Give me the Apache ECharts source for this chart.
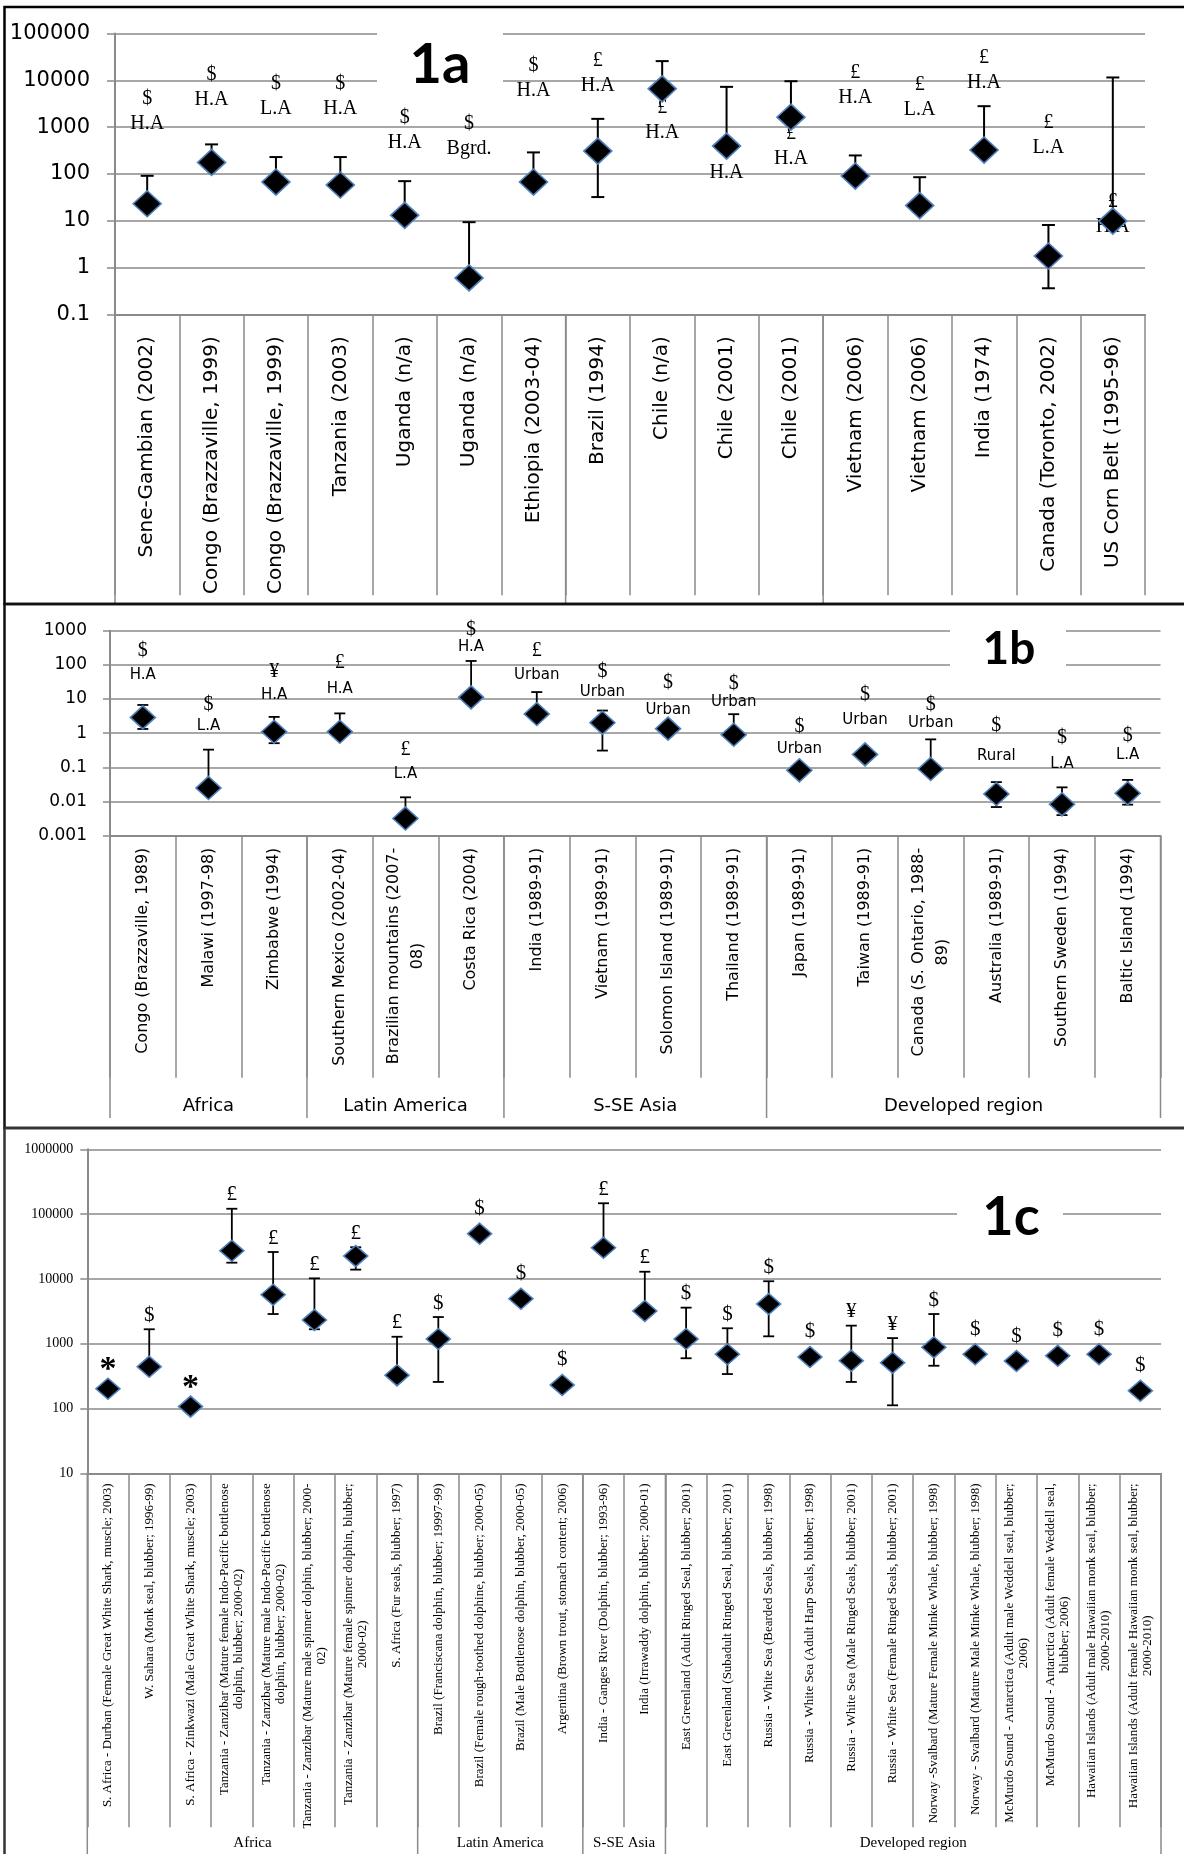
<!DOCTYPE html>
<html>
<head>
<meta charset="utf-8">
<script src="https://cdn.jsdelivr.net/npm/echarts@6/dist/echarts.min.js"></script>
<style>
  html, body { margin: 0; padding: 0; background: #fff; }
  #chart { width: 1184px; height: 1854px; }
</style>
</head>
<body>
<div id="chart"></div>
<script>
// ---------------- Panel 1a ----------------
const cats1a = ["Sene-Gambian (2002)", "Congo (Brazzaville, 1999)", "Congo (Brazzaville, 1999)", "Tanzania (2003)",
  "Uganda (n/a)", "Uganda (n/a)", "Ethiopia (2003-04)", "Brazil (1994)", "Chile (n/a)", "Chile (2001)", "Chile (2001)",
  "Vietnam (2006)", "Vietnam (2006)", "India (1974)", "Canada (Toronto, 2002)", "US Corn Belt (1995-96)"];
const vals1a = [23, 176, 67, 58, 13, 0.6, 67, 307, 6560, 393, 1630, 90, 21, 323, 1.76, 9.8];
const hi1a   = [91, 427, 229, 229, 70, 9.3, 288, 1500, 25700, 7240, 9560, 248, 85, 2800, 8.1, 11500];
const lo1a   = [null, null, null, null, null, null, null, 32, null, null, null, null, null, null, 0.36, null];
const cur1a  = ["$", "$", "$", "$", "$", "$", "$", "£", "£", "£", "£", "£", "£", "£", "£", "£"];
const area1a = ["H.A", "H.A", "L.A", "H.A", "H.A", "Bgrd.", "H.A", "H.A", "H.A", "H.A", "H.A", "H.A", "L.A", "H.A", "L.A", "H.A"];
const groupSizes1a = [7, 4, 5];
const yTicks1a = [0.1, 100000];

// ---------------- Panel 1b ----------------
const cats1b = ["Congo (Brazzaville, 1989)", "Malawi (1997-98)", "Zimbabwe (1994)", "Southern Mexico (2002-04)",
  "Brazilian mountains (2007-\n08)", "Costa Rica (2004)", "India (1989-91)", "Vietnam (1989-91)",
  "Solomon Island (1989-91)", "Thailand (1989-91)", "Japan (1989-91)", "Taiwan (1989-91)",
  "Canada (S. Ontario, 1988-\n89)", "Australia (1989-91)", "Southern Sweden (1994)", "Baltic Island (1994)"];
const vals1b = [2.9, 0.025, 1.1, 1.1, 0.0032, 11.2, 3.65, 2.03, 1.36, 0.9, 0.082, 0.24, 0.09, 0.0166, 0.0083, 0.0174];
const hi1b   = [6.7, 0.33, 3.0, 3.8, 0.0133, 130, 16, 4.6, null, 3.6, null, null, 0.66, 0.037, 0.026, 0.043];
const lo1b   = [1.33, null, 0.51, null, null, null, null, 0.31, null, null, null, null, null, 0.0069, 0.004, 0.0081];
const cur1b  = ["$", "$", "¥", "£", "£", "$", "£", "$", "$", "$", "$", "$", "$", "$", "$", "$"];
const area1b = ["H.A", "L.A", "H.A", "H.A", "L.A", "H.A", "Urban", "Urban", "Urban", "Urban", "Urban", "Urban", "Urban", "Rural", "L.A", "L.A"];
const groups1b = ["Africa", "Latin America", "S-SE Asia", "Developed region"];
const groupSizes1b = [3, 3, 4, 6];
const yTicks1b = [0.001, 1000];

// ---------------- Panel 1c ----------------
const cats1c = [
  "S. Africa - Durban (Female Great White Shark, muscle; 2003)",
  "W. Sahara (Monk seal, blubber; 1996-99)",
  "S. Africa - Zinkwazi (Male Great White Shark, muscle; 2003)",
  "Tanzania - Zanzibar (Mature female Indo-Pacific bottlenose\ndolphin, blubber; 2000-02)",
  "Tanzania - Zanzibar (Mature male Indo-Pacific bottlenose\ndolphin, blubber; 2000-02)",
  "Tanzania - Zanzibar (Mature male spinner dolphin, blubber; 2000-\n02)",
  "Tanzania - Zanzibar (Mature female spinner dolphin, blubber;\n2000-02)",
  "S. Africa (Fur seals, blubber; 1997)",
  "Brazil (Franciscana dolphin, blubber; 19997-99)",
  "Brazil (Female rough-toothed dolphine, blubber; 2000-05)",
  "Brazil (Male Bottlenose dolphin, blubber, 2000-05)",
  "Argentina (Brown trout, stomach content; 2006)",
  "India - Ganges River (Dolphin, blubber; 1993-96)",
  "India (Irrawaddy dolphin, blubber; 2000-01)",
  "East Greenland (Adult Ringed Seal, blubber; 2001)",
  "East Greenland (Subadult Ringed Seal, blubber; 2001)",
  "Russia - White Sea (Bearded Seals, blubber; 1998)",
  "Russia - White Sea (Adult Harp Seals, blubber; 1998)",
  "Russia - White Sea (Male Ringed Seals, blubber; 2001)",
  "Russia - White Sea (Female Ringed Seals, blubber; 2001)",
  "Norway -Svalbard (Mature Female Minke Whale, blubber; 1998)",
  "Norway - Svalbard (Mature Male Minke Whale, blubber; 1998)",
  "McMurdo Sound - Antarctica (Adult male Weddell seal, blubber;\n2006)",
  "McMurdo Sound - Antarctica (Adult female Weddell seal,\nblubber; 2006)",
  "Hawaiian Islands (Adult male Hawaiian monk seal, blubber;\n2000-2010)",
  "Hawaiian Islands (Adult female Hawaiian monk seal, blubber;\n2000-2010)"];
const vals1c = [202, 442, 107, 27200, 5700, 2320, 22500, 325, 1180, 49900, 4940, 231, 30300, 3200,
  1180, 686, 4100, 624, 547, 509, 879, 686, 541, 653, 686, 188];
const hi1c = [null, 1670, null, 121000, 26000, 10200, 30800, 1280, 2580, null, null, null, 147000, 12900,
  3600, 1730, 9200, null, 1900, 1220, 2870, null, null, null, null, null];
const lo1c = [null, null, null, 17800, 2870, 1670, 13900, null, 257, null, null, null, null, null,
  596, 340, 1300, null, 257, 112, 457, null, null, null, null, null];
const tag1c = ["*", "$", "*", "£", "£", "£", "£", "£", "$", "$", "$", "$", "£", "£",
  "$", "$", "$", "$", "¥", "¥", "$", "$", "$", "$", "$", "$"];
const groups1c = ["Africa", "Latin America", "S-SE Asia", "Developed region"];
const groupSizes1c = [8, 4, 2, 12];
const yTicks1c = [10, 1000000];

// ---------------- layout / styling ----------------
const GRAY = '#8a8a8a';
const SANS = '"DejaVu Sans"';
const SERIF = '"Liberation Serif"';
// vertical placement of the two-line tags (px above the marker centre)
const tagRise1a = [80, 63, 73, 76, 73, 129, 91, 65, -44, -27, -42, 78, 96, 67, 108, -6];
const tagGap1a = tagRise1a.map(() => 25);
const tagRise1b = [42, 62, 37, 43, 44, 50, 39, 31, 19, 33, 21, 34, 46, 38, 40, 38];
const tagGap1b = [25, 21, 23, 26, 25, 18, 24, 20, 27, 18, 23, 26, 18, 30, 27, 20];

const chart = echarts.init(document.getElementById('chart'), null, { renderer: 'canvas' });

function powLabel(v) {
  const e = Math.round(Math.log10(v));
  return e >= 0 ? String(Math.pow(10, e)) : Math.pow(10, e).toFixed(-e);
}

function yAxisCfg(gridIndex, ticks, fontFamily, fontSize, margin, tickLen) {
  return {
    type: 'log', logBase: 10, gridIndex, min: ticks[0], max: ticks[1],
    axisLine: { show: true, lineStyle: { color: GRAY, width: 2 } },
    axisTick: { show: true, length: tickLen, lineStyle: { color: GRAY, width: 1.5 } },
    splitLine: { show: true, lineStyle: { color: GRAY, width: 1.5 } },
    minorTick: { show: false }, minorSplitLine: { show: false },
    axisLabel: { color: '#000', fontFamily, fontSize, margin, formatter: powLabel }
  };
}

function xAxisCfg(gridIndex, cats, fontFamily, fontSize, lineHeight, margin, tickLen) {
  return {
    type: 'category', gridIndex, data: cats, boundaryGap: true,
    axisLine: { show: true, lineStyle: { color: GRAY, width: 2 } },
    axisTick: { show: true, interval: 0, length: tickLen, lineStyle: { color: GRAY, width: 1.5 } },
    splitLine: { show: false },
    axisLabel: {
      interval: 0, rotate: 90, margin, color: '#000', fontFamily, fontSize, lineHeight,
      formatter: v => v.indexOf('\n') < 0 ? v : v.split('\n').map(s => '{c|' + s + '}').join('\n'),
      rich: { c: { align: 'center', fontFamily, fontSize, lineHeight, color: '#000' } }
    }
  };
}

function errorData(vals, hi, lo) {
  return vals.map((v, i) => [i, v, hi[i] == null ? v : hi[i], lo[i] == null ? v : lo[i],
    hi[i] == null ? 0 : 1, lo[i] == null ? 0 : 1]);
}

function errorSeries(axisIdx, vals, hi, lo, cap, width) {
  return {
    type: 'custom', xAxisIndex: axisIdx, yAxisIndex: axisIdx, z: 2, clip: false, silent: true,
    encode: { x: 0, y: 1 },
    data: errorData(vals, hi, lo),
    renderItem(params, api) {
      const i = api.value(0);
      const pTop = api.coord([i, api.value(2)]);
      const pBot = api.coord([i, api.value(3)]);
      const x = pTop[0];
      const st = { stroke: '#000', lineWidth: width };
      const kids = [{ type: 'line', shape: { x1: x, y1: pTop[1], x2: x, y2: pBot[1] }, style: st }];
      if (api.value(4)) kids.push({ type: 'line', shape: { x1: x - cap / 2, y1: pTop[1], x2: x + cap / 2, y2: pTop[1] }, style: st });
      if (api.value(5)) kids.push({ type: 'line', shape: { x1: x - cap / 2, y1: pBot[1], x2: x + cap / 2, y2: pBot[1] }, style: st });
      return { type: 'group', children: kids };
    }
  };
}

function markerSeries(axisIdx, vals, size) {
  return {
    type: 'scatter', xAxisIndex: axisIdx, yAxisIndex: axisIdx, z: 4, silent: true,
    symbol: 'diamond', symbolSize: size,
    itemStyle: { color: '#000', borderColor: '#4f81bd', borderWidth: 1.6, opacity: 1 },
    data: vals.map((v, i) => [i, v])
  };
}

function twoLineTagSeries(axisIdx, vals, syms, codes, rise, gap, symFont, codeFont) {
  return {
    type: 'custom', xAxisIndex: axisIdx, yAxisIndex: axisIdx, z: 1, clip: false, silent: true,
    encode: { x: 0, y: 1 },
    data: vals.map((v, i) => [i, v]),
    renderItem(params, api) {
      const i = params.dataIndex;
      const p = api.coord([api.value(0), api.value(1)]);
      const yCode = p[1] - rise[i];
      return {
        type: 'group', children: [
          { type: 'text', x: p[0], y: yCode, style: { text: codes[i], fill: '#000', font: codeFont, align: 'center', verticalAlign: 'middle' } },
          { type: 'text', x: p[0], y: yCode - gap[i], style: { text: syms[i], fill: '#000', font: symFont, align: 'center', verticalAlign: 'middle' } }
        ]
      };
    }
  };
}

function tagSeries1c() {
  return {
    type: 'custom', xAxisIndex: 2, yAxisIndex: 2, z: 1, clip: false, silent: true,
    encode: { x: 0, y: 1 },
    data: vals1c.map((v, i) => [i, v, hi1c[i] == null ? v : hi1c[i], hi1c[i] == null ? 0 : 1]),
    renderItem(params, api) {
      const i = params.dataIndex;
      const t = tag1c[i];
      const p = api.coord([api.value(0), api.value(1)]);
      const top = api.coord([api.value(0), api.value(2)]);
      let y = api.value(3) ? top[1] - 14 : p[1] - 25;
      let font = '21px ' + SERIF;
      if (t === '*') { font = 'bold 34px ' + SERIF; y += 7; }
      return { type: 'text', x: p[0], y, style: { text: t, fill: '#000', font, align: 'center', verticalAlign: 'middle' } };
    }
  };
}

chart.setOption({
  animation: false,
  backgroundColor: '#fff',
  grid: [
    { left: 115, top: 33.5, width: 1030, height: 280.8, outerBoundsMode: 'none' },
    { left: 110, top: 630.7, width: 1050.5, height: 205, outerBoundsMode: 'none' },
    { left: 87.3, top: 1149.3, width: 1073.7, height: 324, outerBoundsMode: 'none' }
  ],
  xAxis: [
    xAxisCfg(0, cats1a, SANS, 20, 24, 22, 281),
    xAxisCfg(1, cats1b, SANS, 16, 24, 12, 242),
    xAxisCfg(2, cats1c, SERIF, 13, 14, 10, 354)
  ],
  yAxis: [
    yAxisCfg(0, yTicks1a, SANS, 21, 25, 8),
    yAxisCfg(1, yTicks1b, SANS, 17, 23, 7),
    yAxisCfg(2, yTicks1c, SERIF, 14, 14, 7)
  ],
  series: [
    twoLineTagSeries(0, vals1a, cur1a, area1a, tagRise1a, tagGap1a, '20px ' + SERIF, '20px ' + SERIF),
    errorSeries(0, vals1a, hi1a, lo1a, 13, 2),
    markerSeries(0, vals1a, [28, 26]),
    twoLineTagSeries(1, vals1b, cur1b, area1b, tagRise1b, tagGap1b, '20px ' + SERIF, '15px ' + SANS),
    errorSeries(1, vals1b, hi1b, lo1b, 11, 1.8),
    markerSeries(1, vals1b, [25, 23]),
    tagSeries1c(),
    errorSeries(2, vals1c, hi1c, lo1c, 11, 1.8),
    markerSeries(2, vals1c, [24, 21])
  ]
});

// ---- region separators, region names, panel frames and panel titles ----
function groupDecor(axisIdx, sizes, names, yTop, yBottom, labelY, font, withEnd) {
  const c0 = chart.convertToPixel({ xAxisIndex: axisIdx }, 0);
  const c1 = chart.convertToPixel({ xAxisIndex: axisIdx }, 1);
  const band = c1 - c0;
  const edge = k => c0 - band / 2 + k * band;
  const out = [];
  let k = 0;
  const bounds = [0];
  sizes.forEach(n => { k += n; bounds.push(k); });
  bounds.forEach((b, j) => {
    if (j === bounds.length - 1 && !withEnd) return;
    out.push({ type: 'line', z: 5, silent: true,
      shape: { x1: edge(b), y1: yTop, x2: edge(b), y2: yBottom },
      style: { stroke: GRAY, lineWidth: 1.5 } });
  });
  if (names) {
    names.forEach((nm, j) => {
      out.push({ type: 'text', z: 5, silent: true, x: (edge(bounds[j]) + edge(bounds[j + 1])) / 2, y: labelY,
        style: { text: nm, fill: '#000', font, align: 'center', verticalAlign: 'middle' } });
    });
  }
  return out;
}

function panelTitle(text, cx, cy, box, fontSize) {
  return [
    { type: 'rect', z: 6, silent: true, shape: box, style: { fill: '#fff' } },
    { type: 'text', z: 7, silent: true, x: cx, y: cy,
      style: { text, fill: '#000', font: 'bold ' + fontSize + 'px Lato', align: 'center', verticalAlign: 'middle' } }
  ];
}

const frames = [
  { type: 'rect', z: 8, silent: true, shape: { x: 4.5, y: 7, width: 1200, height: 597 }, style: { fill: null, stroke: '#000', lineWidth: 2.5 } },
  { type: 'rect', z: 8, silent: true, shape: { x: 4.5, y: 604, width: 1200, height: 524 }, style: { fill: null, stroke: '#111', lineWidth: 2.5 } },
  { type: 'rect', z: 8, silent: true, shape: { x: 4.5, y: 1128, width: 1200, height: 800 }, style: { fill: null, stroke: '#333', lineWidth: 2.5 } }
];

chart.setOption({
  graphic: [].concat(
    frames,
    groupDecor(0, groupSizes1a, null, 314.3, 603, 0, '', false),
    groupDecor(1, groupSizes1b, groups1b, 835.7, 1118, 1106, '18px ' + SANS, true),
    groupDecor(2, groupSizes1c, groups1c, 1473.3, 1854, 1843, '15px ' + SERIF, true),
    panelTitle('1a', 440, 65, { x: 377, y: 26, width: 126, height: 62 }, 56),
    panelTitle('1b', 1009, 649, { x: 950, y: 622, width: 116, height: 50 }, 46),
    panelTitle('1c', 1011, 1218, { x: 957, y: 1196, width: 106, height: 42 }, 54)
  )
});
</script>
</body>
</html>
